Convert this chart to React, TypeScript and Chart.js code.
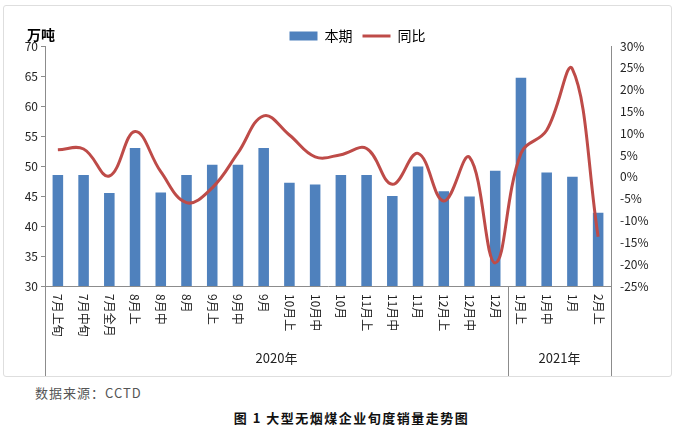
import React, { useEffect, useRef } from 'react';
import { Chart, registerables } from 'chart.js';

Chart.register(...registerables);

const categories = ['7月上旬', '7月中旬', '7月全月', '8月上', '8月中', '8月', '9月上', '9月中', '9月', '10月上', '10月中', '10月', '11月上', '11月中', '11月', '12月上', '12月中', '12月', '1月上', '1月中', '1月', '2月上'];
const currentValues = [48.5, 48.5, 45.5, 53, 45.6, 48.5, 50.2, 50.2, 53, 47.2, 46.9, 48.5, 48.5, 45, 49.9, 45.8, 44.9, 49.2, 64.7, 48.9, 48.2, 42.2];
const yoyValues = [6.2, 6.4, 0.2, 10.4, 1.2, -5.9, -2.5, 5.5, 14, 9.6, 4.6, 5.1, 6.5, -1.7, 5.4, -5.5, 4.5, -19.7, 5.4, 10.7, 24.7, -13.7];
const yearGroups = ['2020年', '2021年'];
const yearGroupSizes = [18, 4];

const FONT = '"Noto Sans CJK SC", "Liberation Sans", sans-serif';

const layoutPlugin = {
  id: 'legendShift',
  afterLayout(chart: any) {
    const lg = chart.legend;
    if (!lg) return;
    const dx = 20;
    const dy = 7;
    lg.left += dx;
    lg.right += dx;
    lg.top += dy;
    lg.bottom += dy;
  },
};

const categoryAxisPlugin = {
  id: 'categoryAxis',
  afterDraw(chart: any) {
    const { ctx, chartArea, scales } = chart;
    const xs = scales.x;
    const bottom = chart.height;
    ctx.save();
    ctx.font = '12px ' + FONT;
    ctx.fillStyle = '#222';
    ctx.textAlign = 'left';
    ctx.textBaseline = 'middle';
    categories.forEach((lab, i) => {
      const px = xs.getPixelForValue(i);
      ctx.save();
      ctx.translate(px, chartArea.bottom + 8);
      ctx.rotate(Math.PI / 2);
      ctx.fillText(lab, 0, 0);
      ctx.restore();
    });
    ctx.strokeStyle = '#8c8c8c';
    ctx.lineWidth = 1;
    let start = 0;
    const bounds: number[] = [xs.getPixelForValue(-0.5)];
    yearGroups.forEach((g, gi) => {
      const end = start + yearGroupSizes[gi] - 1;
      const left = xs.getPixelForValue(start - 0.5);
      const right = xs.getPixelForValue(end + 0.5);
      bounds.push(right);
      ctx.font = '13px ' + FONT;
      ctx.textAlign = 'center';
      ctx.fillText(g, (left + right) / 2, chartArea.bottom + 72);
      start = end + 1;
    });
    bounds.forEach((b) => {
      const xx = Math.round(b) + 0.5;
      ctx.beginPath();
      ctx.moveTo(xx, chartArea.bottom);
      ctx.lineTo(xx, bottom);
      ctx.stroke();
    });
    ctx.restore();
  },
};

export default function App() {
  const canvasRef = useRef<HTMLCanvasElement | null>(null);

  useEffect(() => {
    if (!canvasRef.current) return;
    const chart = new Chart(canvasRef.current, {
      type: 'bar',
      data: {
        labels: categories,
        datasets: [
          {
            type: 'line',
            label: '同比',
            data: yoyValues,
            yAxisID: 'y1',
            borderColor: '#BE4B48',
            backgroundColor: '#BE4B48',
            borderWidth: 3,
            pointRadius: 0,
            pointStyle: 'line',
            tension: 0.4,
          } as any,
          {
            type: 'bar',
            label: '本期',
            data: currentValues,
            yAxisID: 'y',
            backgroundColor: '#4F81BD',
            borderWidth: 0,
            barPercentage: 0.82,
            categoryPercentage: 0.5,
            pointStyle: 'rect',
          } as any,
        ],
      },
      options: {
        responsive: false,
        animation: false,
        layout: { padding: { top: 6, left: 0, right: 0, bottom: 0 } },
        plugins: {
          tooltip: { enabled: false },
          legend: {
            position: 'top',
            reverse: true,
            labels: {
              usePointStyle: true,
              pointStyleWidth: 28,
              boxHeight: 9,
              padding: 10,
              color: '#000',
              font: { size: 14, family: FONT },
            },
          },
        },
        scales: {
          x: {
            grid: { display: false },
            border: { display: true, color: '#8c8c8c', width: 1 },
            ticks: { display: false },
            afterFit: (s: any) => {
              s.height = 90;
            },
          },
          y: {
            position: 'left',
            min: 30,
            max: 70,
            ticks: {
              stepSize: 5,
              color: '#222',
              padding: 3,
              font: { size: 12, family: FONT },
            },
            grid: { display: true, drawOnChartArea: false, drawTicks: true, tickLength: 4, color: '#8c8c8c' },
            border: { display: true, color: '#8c8c8c', width: 1 },
            afterFit: (s: any) => {
              s.width = 41;
            },
          },
          y1: {
            position: 'right',
            min: -25,
            max: 30,
            ticks: {
              stepSize: 5,
              color: '#222',
              padding: 9,
              font: { size: 12, family: FONT },
              callback: (v: any) => v + '%',
            },
            grid: { display: false, drawTicks: false },
            border: { display: true, color: '#8c8c8c', width: 1 },
            afterFit: (s: any) => {
              s.width = 60;
            },
          },
        },
      },
      plugins: [layoutPlugin, categoryAxisPlugin],
    });
    return () => chart.destroy();
  }, []);

  return (
    <div style={{ position: 'absolute', left: 0, top: 0, width: 677, height: 430, background: '#fff', fontFamily: FONT }}>
      <div
        style={{
          position: 'absolute',
          left: 3,
          top: 5,
          width: 669,
          height: 372,
          boxSizing: 'border-box',
          border: '1px solid #dedede',
          borderRadius: 3,
        }}
      >
        <canvas ref={canvasRef} width={667} height={370} style={{ display: 'block', width: 667, height: 370 }} />
      </div>
      <div style={{ position: 'absolute', left: 27, top: 24, fontSize: 14, fontWeight: 'bold', color: '#000' }}>万吨</div>
      <div style={{ position: 'absolute', left: 35, top: 383, fontSize: 13, color: '#555', letterSpacing: 1 }}>数据来源：CCTD</div>
      <div
        style={{
          position: 'absolute',
          left: 0,
          width: 677,
          top: 408,
          textAlign: 'center',
          fontSize: 13,
          fontWeight: 'bold',
          color: '#111',
          letterSpacing: 1.5,
          paddingLeft: 26,
          boxSizing: 'border-box',
        }}
      >
        图 1 大型无烟煤企业旬度销量走势图
      </div>
    </div>
  );
}
